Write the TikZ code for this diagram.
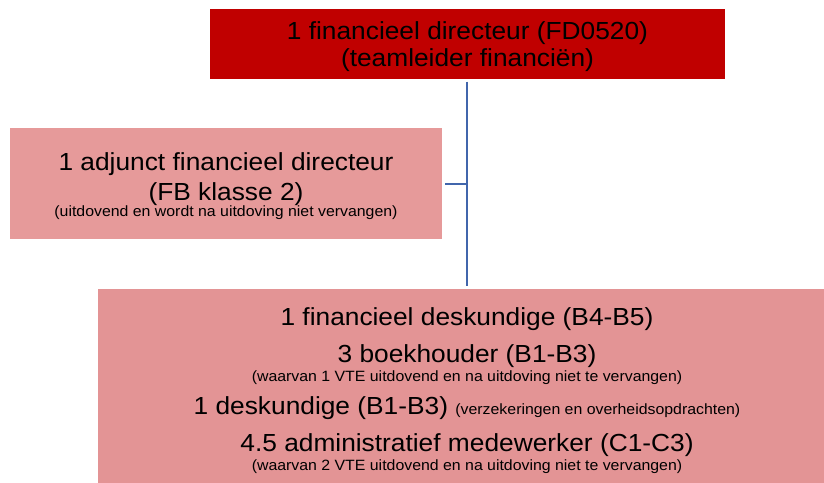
\documentclass[tikz,border=0pt]{standalone}
\usepackage{fontspec}
\newfontfamily\mf[FakeStretch=1.065]{Liberation Sans}
\definecolor{topred}{RGB}{192,0,0}
\definecolor{pinkA}{RGB}{230,154,154}
\definecolor{pinkB}{RGB}{227,148,149}
\definecolor{lineblue}{RGB}{65,102,172}
\newcommand{\bigt}{\mf\fontsize{24.7}{26}\selectfont}
\newcommand{\smt}{\mf\fontsize{14.9}{16}\selectfont}
\begin{document}
\begin{tikzpicture}[x=1pt,y=-1pt,
  box/.style={draw=none,inner sep=0pt,outer sep=0pt},
  txt/.style={anchor=base,inner sep=0pt,outer sep=0pt,text=black},
  conn/.style={draw=lineblue,line width=2.3pt}]
\useasboundingbox (0,0) rectangle (824,482);
% boxes
\node[box,fill=topred,minimum width=515.5pt,minimum height=69.7pt] (fd) at (467.25,44.15) {};
\node[box,fill=pinkA,minimum width=432.5pt,minimum height=111pt] (adj) at (225.75,183.8) {};
\node[box,fill=pinkB,minimum width=740pt,minimum height=210pt] (team) at (468,394) {};
% connectors
\coordinate (vtop) at (466.7,81.7);
\coordinate (vbot) at (466.7,286);
\draw[conn] (vtop) -- (vbot);
\draw[conn,shorten <=3pt] (adj.east) -- (adj.east -| vtop);
% texts top
\node[txt] (t1) at (467.5,39.3) {\bigt 1 financieel directeur (FD0520)};
\node[txt] (t2) at (467.5,66) {\bigt (teamleider financiën)};
% texts left
\node[txt] (a1) at (226,170.7) {\bigt 1 adjunct financieel directeur};
\node[txt] (a2) at (226,200) {\bigt (FB klasse 2)};
\node[txt] (a3) at (226,216) {\smt (uitdovend en wordt na uitdoving niet vervangen)};
% texts bottom
\node[txt] (b1) at (467,325) {\bigt 1 financieel deskundige (B4-B5)};
\node[txt] (b2) at (467,362.7) {\bigt 3 boekhouder (B1-B3)};
\node[txt] (b3) at (467,381.7) {\smt (waarvan 1 VTE uitdovend en na uitdoving niet te vervangen)};
\node[txt] (b4) at (467,414) {\bigt 1 deskundige (B1-B3) {\smt (verzekeringen en overheidsopdrachten)}};
\node[txt] (b5) at (467,451.7) {\bigt 4.5 administratief medewerker (C1-C3)};
\node[txt] (b6) at (467,470) {\smt (waarvan 2 VTE uitdovend en na uitdoving niet te vervangen)};
\end{tikzpicture}
\end{document}
